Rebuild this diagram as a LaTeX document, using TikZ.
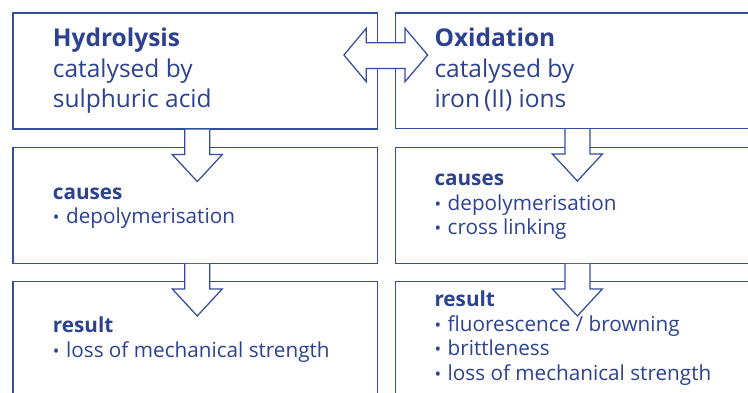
\documentclass[tikz,border=0pt]{standalone}
\usepackage{fontspec}
\setmainfont{Open Sans}
\usetikzlibrary{calc}
\definecolor{ink}{RGB}{44,66,145}
\definecolor{rule}{RGB}{52,78,155}
\newcommand{\blist}[1]{\begin{tabular}[t]{@{}l@{}}#1\end{tabular}}
\newcommand{\bul}{\scalebox{0.85}{•}\hspace{0.32em}}
\tikzset{
  box/.style={draw=rule, line width=1.25pt, rectangle, inner sep=0pt, anchor=north west},
  bigtext/.style={anchor=base west, inner sep=0pt, text=ink, font=\fontsize{24.5}{30.5}\selectfont},
  smalltext/.style={anchor=base west, inner sep=0pt, text=ink, font=\fontsize{20.7}{24.6}\selectfont},
  arrline/.style={draw=rule, line width=1.25pt, line join=miter},
  downarr/.pic={
    \fill[white] (-12.5,0) -- (-12.5,25) -- (-25,25) -- (0,52) -- (25,25) -- (12.5,25) -- (12.5,0) -- cycle;
    \draw[arrline] (-12.5,0) -- (-12.5,25) -- (-25,25) -- (0,52) -- (25,25) -- (12.5,25) -- (12.5,0);
  }
}
\begin{document}
\begin{tikzpicture}[x=1pt,y=-1pt]
\useasboundingbox (0,0) rectangle (748,392);
\clip (0,0) rectangle (748,392);
% boxes
\node[box, minimum width=364.7pt, minimum height=116pt] (L1) at (12.3,12.3) {};
\node[box, minimum width=364.7pt, minimum height=116pt] (L2) at (12.3,146.7) {};
\node[box, minimum width=364.7pt, minimum height=140pt] (L3) at (12.3,280.7) {};
\node[box, minimum width=365.5pt, minimum height=115.5pt] (R1) at (394.5,12.3) {};
\node[box, minimum width=365.5pt, minimum height=116pt] (R2) at (394.5,146.7) {};
\node[box, minimum width=365.5pt, minimum height=140pt] (R3) at (394.5,280.7) {};
% down arrows
\pic at ($(L1.south)+(2,0)$) {downarr};
\pic at ($(L2.south)+(2,0)$) {downarr};
\pic at ($(R1.south)+(-0.5,0)$) {downarr};
\pic at ($(R2.south)+(-0.5,0)$) {downarr};
% double arrow between L1 and R1
\coordinate (D) at ($(L1.north east)+(0,42.7)$);
\fill[white] ($(D)+(-34.3,0)$) -- ($(D)+(-12,-26.7)$) -- ($(D)+(-12,-12.2)$) -- ($(R1.west|-D)+(10.5,-12.2)$) -- ($(R1.west|-D)+(10.5,-26.7)$) -- ($(R1.west|-D)+(33.2,0)$) -- ($(R1.west|-D)+(10.5,26.7)$) -- ($(R1.west|-D)+(10.5,13.5)$) -- ($(D)+(-12,13.5)$) -- ($(D)+(-12,26.7)$) -- cycle;
\draw[arrline] ($(D)+(-34.3,0)$) -- ($(D)+(-12,-26.7)$) -- ($(D)+(-12,-12.2)$) -- ($(R1.west|-D)+(10.5,-12.2)$) -- ($(R1.west|-D)+(10.5,-26.7)$) -- ($(R1.west|-D)+(33.2,0)$) -- ($(R1.west|-D)+(10.5,26.7)$) -- ($(R1.west|-D)+(10.5,13.5)$) -- ($(D)+(-12,13.5)$) -- ($(D)+(-12,26.7)$) -- cycle;
% texts
\node[bigtext] (tL1) at ($(L1.north west)+(40.4,34.4)$) {\blist{\textbf{Hydrolysis}\\catalysed by\\sulphuric acid}};
\node[bigtext] (tR1) at ($(R1.north west)+(39.8,34.4)$) {\blist{\textbf{Oxidation}\\catalysed by\\iron\,(II) ions}};
\node[smalltext] (tL2) at ($(L2.north west)+(40.4,52.3)$) {\blist{\textbf{causes}\\\bul depolymerisation}};
\node[smalltext] (tR2) at ($(R2.north west)+(39.8,39)$) {\blist{\textbf{causes}\\\bul depolymerisation\\\bul cross linking}};
\node[smalltext] (tL3) at ($(L3.north west)+(40.4,52)$) {\blist{\textbf{result}\\\bul loss of mechanical strength}};
\node[smalltext] (tR3) at ($(R3.north west)+(39.8,26)$) {\blist{\textbf{result}\\\bul fluorescence / browning\\\bul brittleness\\\bul loss of mechanical strength}};
\end{tikzpicture}
\end{document}
